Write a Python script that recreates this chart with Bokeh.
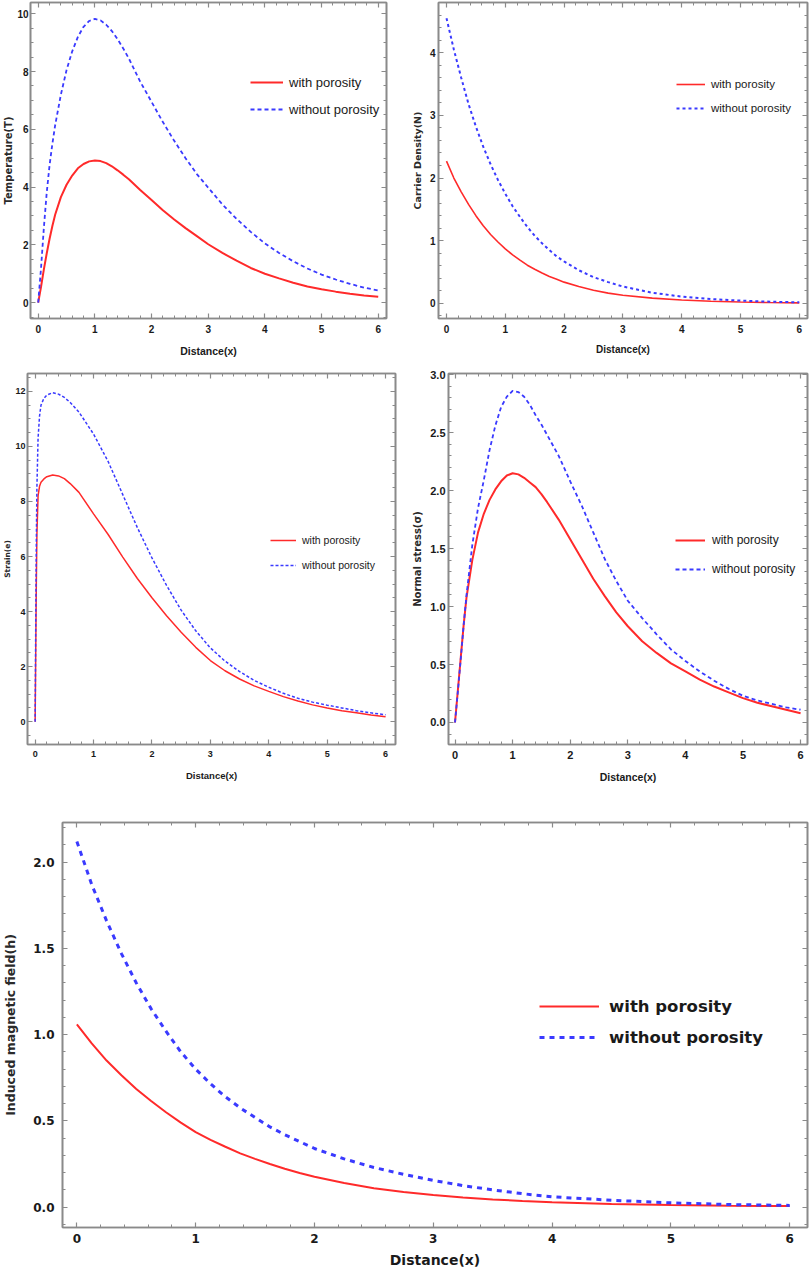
import numpy as np
from bokeh.plotting import figure
from bokeh.models import Range1d, LinearAxis, FixedTicker, Legend, LegendItem, PrintfTickFormatter
from bokeh.layouts import column, row
from bokeh.embed import file_html
from bokeh.resources import INLINE

# ---------------- data ----------------
# Panel 1: Temperature
x_temp = [0, 0.05, 0.1, 0.15, 0.2, 0.25, 0.3, 0.4, 0.5, 0.6, 0.7, 0.8, 0.9, 1.0, 1.1, 1.2,
          1.3, 1.4, 1.5, 1.6, 1.8, 2.0, 2.2, 2.4, 2.6, 2.8, 3.0, 3.25, 3.5, 3.75, 4.0,
          4.25, 4.5, 4.75, 5.0, 5.25, 5.5, 5.75, 6.0]
temp_with = [0, 0.55, 1.15, 1.7, 2.2, 2.65, 3.05, 3.65, 4.08, 4.4, 4.65, 4.8, 4.89, 4.92,
             4.9, 4.83, 4.72, 4.58, 4.43, 4.27, 3.9, 3.55, 3.2, 2.88, 2.58, 2.3, 2.02,
             1.72, 1.45, 1.2, 1.0, 0.84, 0.69, 0.56, 0.46, 0.38, 0.31, 0.25, 0.2]
temp_without = [0, 1.2, 2.6, 3.8, 4.75, 5.5, 6.15, 7.2, 8.05, 8.7, 9.2, 9.55, 9.75, 9.82,
                9.77, 9.62, 9.4, 9.12, 8.8, 8.45, 7.65, 6.95, 6.25, 5.6, 5.0, 4.45, 3.98,
                3.4, 2.9, 2.45, 2.05, 1.72, 1.43, 1.18, 0.97, 0.8, 0.65, 0.52, 0.42]

# Panel 2: Carrier density
x_carrier = [0, 0.125, 0.25, 0.375, 0.5, 0.625, 0.75, 0.875, 1.0, 1.125, 1.25, 1.375, 1.5,
             1.625, 1.75, 1.875, 2.0, 2.25, 2.5, 2.75, 3.0, 3.5, 4.0, 4.5, 5.0, 5.5, 6.0]
carrier_with = [2.27, 2.0, 1.78, 1.58, 1.4, 1.24, 1.1, 0.98, 0.87, 0.775, 0.69, 0.61, 0.545,
                0.485, 0.43, 0.385, 0.34, 0.27, 0.21, 0.165, 0.13, 0.085, 0.055, 0.035,
                0.022, 0.014, 0.009]
carrier_without = [4.55, 4.05, 3.6, 3.18, 2.82, 2.5, 2.22, 1.97, 1.75, 1.55, 1.38, 1.22,
                   1.08, 0.96, 0.85, 0.75, 0.67, 0.53, 0.42, 0.34, 0.27, 0.17, 0.11, 0.07,
                   0.045, 0.028, 0.018]

# Panel 3: Strain
x_strain = [0, 0.01, 0.02, 0.03, 0.05, 0.075, 0.1, 0.15, 0.2, 0.3, 0.4, 0.5, 0.6, 0.75,
            1.0, 1.25, 1.5, 1.75, 2.0, 2.25, 2.5, 2.75, 3.0, 3.25, 3.5, 3.75, 4.0, 4.25,
            4.5, 4.75, 5.0, 5.25, 5.5, 5.75, 6.0]
strain_with = [0, 2.5, 5.0, 6.8, 8.2, 8.55, 8.7, 8.82, 8.9, 8.96, 8.93, 8.83, 8.65, 8.33,
               7.55, 6.8, 5.98, 5.2, 4.5, 3.85, 3.25, 2.7, 2.22, 1.85, 1.55, 1.3, 1.1,
               0.91, 0.75, 0.61, 0.5, 0.4, 0.32, 0.24, 0.18]
strain_without = [0, 3.5, 6.5, 8.5, 10.3, 11.1, 11.5, 11.75, 11.87, 11.95, 11.9, 11.78,
                  11.6, 11.25, 10.45, 9.45, 8.25, 7.05, 5.95, 4.95, 4.05, 3.3, 2.68, 2.2,
                  1.82, 1.5, 1.25, 1.03, 0.85, 0.71, 0.6, 0.5, 0.4, 0.32, 0.25]

# Panel 4: Normal stress
x_stress = [0, 0.05, 0.1, 0.15, 0.2, 0.3, 0.4, 0.5, 0.6, 0.7, 0.8, 0.9, 1.0, 1.1, 1.2,
            1.3, 1.4, 1.5, 1.6, 1.8, 2.0, 2.2, 2.4, 2.6, 2.8, 3.0, 3.25, 3.5, 3.75, 4.0,
            4.25, 4.5, 4.75, 5.0, 5.25, 5.5, 5.75, 6.0]
stress_with = [0, 0.28, 0.56, 0.84, 1.08, 1.4, 1.64, 1.8, 1.92, 2.01, 2.08, 2.13, 2.15,
               2.14, 2.11, 2.07, 2.03, 1.97, 1.9, 1.75, 1.58, 1.41, 1.24, 1.09, 0.95,
               0.83, 0.7, 0.6, 0.51, 0.44, 0.37, 0.31, 0.26, 0.21, 0.17, 0.14, 0.11, 0.08]
stress_without = [0, 0.27, 0.55, 0.84, 1.1, 1.53, 1.85, 2.09, 2.35, 2.56, 2.72, 2.81, 2.86,
                  2.85, 2.81, 2.74, 2.65, 2.57, 2.48, 2.3, 2.08, 1.87, 1.64, 1.41, 1.22,
                  1.05, 0.9, 0.76, 0.63, 0.53, 0.44, 0.36, 0.29, 0.23, 0.19, 0.16, 0.13, 0.11]

# Panel 5: Induced magnetic field
x_field = [0, 0.125, 0.25, 0.375, 0.5, 0.625, 0.75, 0.875, 1.0, 1.125, 1.25, 1.375, 1.5,
           1.625, 1.75, 1.875, 2.0, 2.25, 2.5, 2.75, 3.0, 3.25, 3.5, 3.75, 4.0, 4.5, 5.0,
           5.5, 6.0]
field_with = [1.06, 0.95, 0.85, 0.765, 0.685, 0.615, 0.55, 0.49, 0.435, 0.39, 0.35, 0.312,
              0.28, 0.25, 0.223, 0.198, 0.176, 0.14, 0.11, 0.088, 0.07, 0.056, 0.045,
              0.036, 0.028, 0.018, 0.012, 0.008, 0.006]
field_without = [2.12, 1.87, 1.66, 1.47, 1.3, 1.15, 1.02, 0.9, 0.8, 0.715, 0.64, 0.575,
                 0.52, 0.465, 0.42, 0.38, 0.34, 0.28, 0.23, 0.19, 0.155, 0.125, 0.1,
                 0.078, 0.06, 0.04, 0.025, 0.015, 0.01]

legend_labels = ["with porosity", "without porosity"]
x_label = "Distance(x)"

# ---------------- styling ----------------
FRAME = "#8a8a8a"
RED = "#ff2a2a"
BLUE = "#3a3aff"
TXT = "#1a1a1a"
SANS = "Liberation Sans"
WIDE = "DejaVu Sans"


def style_axis(ax, ticks, minor, show, font, size, standoff=4, fmt=None):
    ax.ticker = FixedTicker(ticks=ticks, minor_ticks=minor)
    ax.axis_line_color = FRAME
    ax.axis_line_width = 1.6
    ax.major_tick_line_color = FRAME
    ax.minor_tick_line_color = FRAME
    ax.major_tick_line_width = 1.2
    ax.minor_tick_line_width = 1.0
    ax.major_tick_in = 5
    ax.major_tick_out = 0
    ax.minor_tick_in = 3
    ax.minor_tick_out = 0
    if fmt:
        ax.formatter = PrintfTickFormatter(format=fmt)
    if show:
        ax.major_label_text_font = font
        ax.major_label_text_font_size = size
        ax.major_label_text_font_style = "bold"
        ax.major_label_text_color = TXT
        ax.major_label_standoff = standoff
    else:
        ax.major_label_text_font_size = "0px"
        ax.major_label_standoff = 0
        ax.major_label_text_alpha = 0


def panel(width, height, borders, xr, yr, yticks, yminor, xdata, yw, ywo,
          ylabel, ylab_font, ylab_size, tick_font, tick_size, xlab_font, xlab_size,
          leg, lw=(1.8, 1.8), dash="4 3", yfmt=None, xtick_standoff=6, ytick_standoff=3,
          xlab_standoff=9, ylab_standoff=4):
    bl, br, bt, bb = borders
    p = figure(width=width, height=height, output_backend="svg", toolbar_location=None,
               x_range=Range1d(*xr), y_range=Range1d(*yr),
               min_border_left=bl, min_border_right=br, min_border_top=bt, min_border_bottom=bb)
    p.xgrid.visible = False
    p.ygrid.visible = False
    p.outline_line_color = FRAME
    p.outline_line_width = 1.6
    p.background_fill_color = "white"
    p.border_fill_color = "white"

    xt = list(range(0, 7))
    xm = list(np.round(np.arange(-0.2, 6.21, 0.2), 3))
    style_axis(p.xaxis[0], xt, xm, True, tick_font, tick_size, xtick_standoff)
    style_axis(p.yaxis[0], yticks, yminor, True, tick_font, tick_size, ytick_standoff, yfmt)
    p.xaxis[0].axis_label = x_label
    p.xaxis[0].axis_label_text_font = xlab_font
    p.xaxis[0].axis_label_text_font_size = xlab_size
    p.xaxis[0].axis_label_text_font_style = "bold"
    p.xaxis[0].axis_label_text_color = TXT
    p.xaxis[0].axis_label_standoff = xlab_standoff
    p.yaxis[0].axis_label = ylabel
    p.yaxis[0].axis_label_text_font = ylab_font
    p.yaxis[0].axis_label_text_font_size = ylab_size
    p.yaxis[0].axis_label_text_font_style = "bold"
    p.yaxis[0].axis_label_text_color = "#2a2a2a"
    p.yaxis[0].axis_label_standoff = ylab_standoff

    top = LinearAxis()
    style_axis(top, xt, xm, False, tick_font, tick_size)
    right = LinearAxis()
    style_axis(right, yticks, yminor, False, tick_font, tick_size)
    p.add_layout(top, "above")
    p.add_layout(right, "right")

    r1 = p.line(xdata, yw, line_color=RED, line_width=lw[0])
    r2 = p.line(xdata, ywo, line_color=BLUE, line_width=lw[1], line_dash=dash)

    lx, ly, gw, sp, st, lfont, lsize, lstyle = leg
    legend = Legend(items=[LegendItem(label=legend_labels[0], renderers=[r1]),
                           LegendItem(label=legend_labels[1], renderers=[r2])],
                    location=(lx, ly), orientation="vertical", padding=0, margin=0,
                    spacing=sp, glyph_width=gw, glyph_height=20, label_height=20,
                    label_standoff=st, label_text_font=lfont, label_text_font_size=lsize,
                    label_text_font_style=lstyle, label_text_color=TXT,
                    border_line_alpha=0, background_fill_alpha=0)
    p.add_layout(legend)
    return p


ymin1 = list(np.round(np.arange(-0.5, 10.51, 0.5), 3))
p1 = panel(400, 362, (30, 14, 2, 44), (-0.136, 6.146), (-0.55, 10.39),
           [0, 2, 4, 6, 8, 10], ymin1, x_temp, temp_with, temp_without,
           "Temperature(T)", WIDE, "10px", SANS, "10px", SANS, "10.5px",
           (220, 199, 33, 7, 6, SANS, "13px", "normal"), lw=(2.0, 1.8), dash="4 3",
           ytick_standoff=2, ylab_standoff=0)

ymin2 = list(np.round(np.arange(-0.2, 4.81, 0.2), 3))
p2 = panel(409, 362, (38, 2, 2, 44), (-0.136, 6.14), (-0.24, 4.8),
           [0, 1, 2, 3, 4], ymin2, x_carrier, carrier_with, carrier_without,
           "Carrier Density(N)", WIDE, "9.5px", SANS, "10px", SANS, "10px",
           (238, 200, 29, 4, 6, SANS, "11.5px", "normal"), lw=(1.6, 2.0), dash="3 3",
           xlab_standoff=8)

ymin3 = list(np.round(np.arange(-0.5, 12.51, 0.5), 3))
p3 = panel(400, 428, (25, 5, 3, 46), (-0.131, 6.17), (-0.83, 12.65),
           [0, 2, 4, 6, 8, 10, 12], ymin3, x_strain, strain_with, strain_without,
           "Strain(e)", WIDE, "7.5px", SANS, "9px", SANS, "9.5px",
           (243, 169, 26, 5, 6, SANS, "10.5px", "normal"), lw=(1.5, 1.5), dash="3 2",
           ytick_standoff=2, ylab_standoff=0, xlab_standoff=10)

ymin4 = list(np.round(np.arange(-0.1, 3.01, 0.1), 3))
p4 = panel(409, 428, (48, 2, 11, 45), (-0.113, 6.12), (-0.19, 3.01),
           [0, 0.5, 1.0, 1.5, 2.0, 2.5, 3.0], ymin4, x_stress, stress_with, stress_without,
           "Normal stress(σ)", WIDE, "10px", SANS, "11px", SANS, "10.5px",
           (227, 165, 30, 9, 7, SANS, "12px", "normal"), lw=(2.0, 1.8), dash="4 3",
           yfmt="%.1f", ytick_standoff=3, xlab_standoff=9)

ymin5 = list(np.round(np.arange(-0.1, 2.21, 0.1), 3))
p5 = panel(809, 484, (62, 2, 32, 47), (-0.121, 6.15), (-0.118, 2.23),
           [0, 0.5, 1.0, 1.5, 2.0], ymin5, x_field, field_with, field_without,
           "Induced magnetic field(h)", WIDE, "12.5px", WIDE, "12px", WIDE, "14px",
           (477, 180, 60, 11, 10, WIDE, "16.5px", "bold"), lw=(2.0, 3.0), dash="5 5",
           yfmt="%.1f", xtick_standoff=6, ytick_standoff=8, xlab_standoff=6, ylab_standoff=12)

layout = column(row(p1, p2, spacing=0), row(p3, p4, spacing=0), p5, spacing=0)

open("out.html", "w").write(file_html(layout, INLINE))
